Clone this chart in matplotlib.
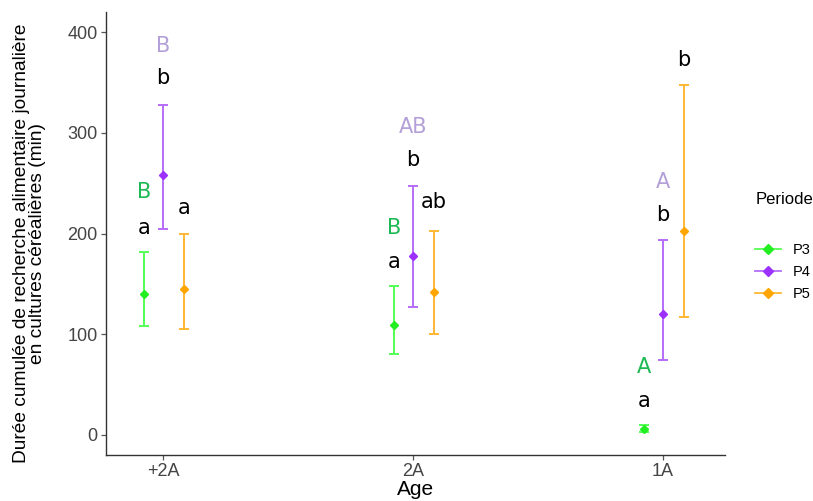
import numpy as np
import matplotlib.pyplot as plt
from matplotlib.lines import Line2D

# ===============================
# DATA
# ===============================
ages = ["+2A", "2A", "1A"]
periodes = ["P3", "P4", "P5"]

mean_p3 = [140, 109, 6]
low_p3 = [108, 80, 3]
high_p3 = [182, 148, 10]

mean_p4 = [258, 178, 120]
low_p4 = [204, 127, 74]
high_p4 = [328, 247, 194]

mean_p5 = [145, 142, 202]
low_p5 = [105, 100, 117]
high_p5 = [200, 202, 347]

# lettres (minuscules noires) et (majuscules colorees)
lettre_min = {"P3": ["a", "a", "a"], "P4": ["b", "b", "b"], "P5": ["a", "ab", "b"]}
y_min = {"P3": [205, 172, 34], "P4": [354, 273, 218], "P5": [225, 231, 372]}
lettre_maj = {"P3": ["B", "B", "A"], "P4": ["B", "AB", "A"]}
y_maj = {"P3": [241, 205, 67], "P4": [386, 306, 251]}

couleurs = {"P3": "#22ee22", "P4": "#9b30ff", "P5": "#ffa500"}
couleurs_bar = {"P3": "#55ff55", "P4": "#b56cf7", "P5": "#ffb733"}
couleurs_maj = {"P3": "#1db954", "P4": "#b3a0d8"}

means = {"P3": mean_p3, "P4": mean_p4, "P5": mean_p5}
lows = {"P3": low_p3, "P4": low_p4, "P5": low_p5}
highs = {"P3": high_p3, "P4": high_p4, "P5": high_p5}
dodge = {"P3": -0.076, "P4": 0.0, "P5": 0.084}

# ===============================
# FIGURE
# ===============================
plt.rcParams['font.family'] = ['Liberation Sans', 'DejaVu Sans']
fig = plt.figure(figsize=(8.13, 5.01), dpi=100)
ax = fig.add_axes([106 / 813, 46 / 501, 619 / 813, 443 / 501])

x = np.arange(1, len(ages) + 1)
for p in periodes:
    xs = x + dodge[p]
    m = np.array(means[p])
    lo = m - np.array(lows[p])
    hi = np.array(highs[p]) - m
    ax.errorbar(xs, m, yerr=[lo, hi], fmt="none", ecolor=couleurs_bar[p],
                elinewidth=1.4, capsize=3.3, capthick=1.4)
    ax.plot(xs, m, "D", color=couleurs[p], markersize=4.5, zorder=3)

    for i in range(len(ages)):
        ax.text(xs[i], y_min[p][i], lettre_min[p][i], ha="center", va="center",
                fontsize=15, color="black", family="DejaVu Sans")
        if p in lettre_maj:
            ax.text(xs[i], y_maj[p][i], lettre_maj[p][i], ha="center", va="center",
                    fontsize=15, color=couleurs_maj[p], family="DejaVu Sans")

ax.set_xlim(0.772, 3.248)
ax.set_ylim(-20, 420)
ax.set_xticks(x)
ax.set_xticklabels(ages)
ax.set_yticks([0, 100, 200, 300, 400])

for s in ["top", "right"]:
    ax.spines[s].set_visible(False)
for s in ["left", "bottom"]:
    ax.spines[s].set_color("#333333")
    ax.spines[s].set_linewidth(1.0)
ax.tick_params(axis="both", colors="#555555", labelcolor="#444444",
               labelsize=13, length=3.5, width=0.9, pad=2.5)

ax.set_xlabel("Age", fontsize=15, labelpad=0)
ax.set_ylabel("Durée cumulée de recherche alimentaire journalière\nen cultures céréalières (min)",
              fontsize=13.8, linespacing=0.95)
ax.yaxis.set_label_coords(-0.097, 0.478)

handles = [Line2D([0], [0], color=couleurs_bar[p], marker="D", markersize=5,
                  markerfacecolor=couleurs[p], markeredgecolor=couleurs[p], lw=1.3)
           for p in periodes]
leg = fig.legend(handles, periodes, title="Periode", loc="upper left",
                 bbox_to_anchor=(742 / 813, 1 - 179 / 501), frameon=False,
                 fontsize=10.5, title_fontsize=12, handlelength=1.8,
                 labelspacing=0.55, alignment="left")
leg._legend_box.sep = 26

fig.savefig("out.png", dpi=100)
